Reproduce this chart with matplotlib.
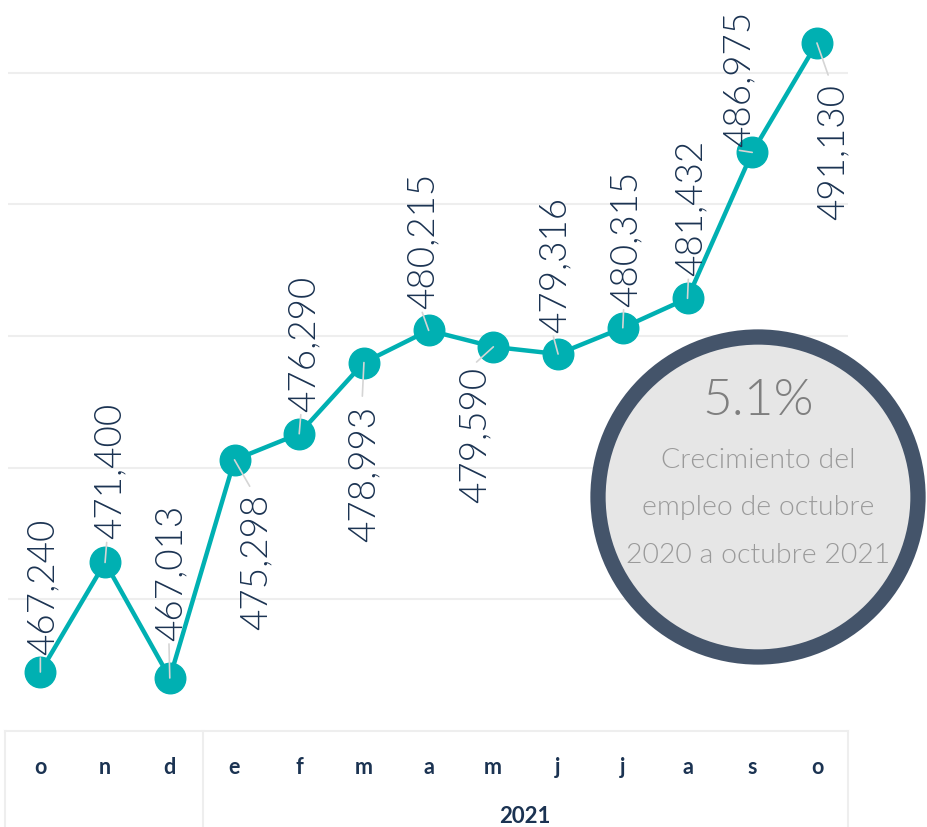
import numpy as np
import matplotlib.pyplot as plt
from matplotlib.patches import Circle

plt.rcParams['font.family'] = ['Lato', 'DejaVu Sans']

months = ['o', 'n', 'd', 'e', 'f', 'm', 'a', 'm', 'j', 'j', 'a', 's', 'o']
empleo = [467240, 471400, 467013, 475298, 476290, 478993, 480215,
          479590, 479316, 480315, 481432, 486975, 491130]
year_label = '2021'
growth = '5.1%'
growth_text = 'Crecimiento del\nempleo de octubre\n2020 a octubre 2021'

# label placement in pixels from the marker centre (dy > 0: label above)
label_dx = [0, 2, -1, 19, 2, -2, -8, -21, -6, 1, 1, -16, 14]
label_dy = [18, 24, 38, -33, 23, -42, 22, -19, 22, 22, 23, 6, -40]

teal = '#00b0b2'
navy = '#1b3352'

W, H = 928, 828
fig = plt.figure(figsize=(W / 100, H / 100), dpi=100)

# main axes: pixels x 8..848, y 0..730 (from top)
ax = fig.add_axes([8 / W, (H - 730) / H, 840 / W, 730 / H])
x = np.arange(len(empleo))
ax.plot(x, empleo, color=teal, lw=3.2, marker='o', ms=22, zorder=3,
        solid_capstyle='round')

px = 0.02633  # pixels per unit
ytop = 491130 + 44 / px
ybot = 467240 - (730 - 673) / px
ax.set_ylim(ybot, ytop)
ax.set_xlim(-0.5, 12.48)
ax.set_yticks([470000, 475000, 480000, 485000, 490000])
ax.grid(axis='y', color='#eeeeee', lw=1.5)
ax.set_axisbelow(True)
ax.tick_params(left=False, bottom=False, labelleft=False, labelbottom=False)
for s in ax.spines.values():
    s.set_visible(False)

for xi, v, dx, dy in zip(x, empleo, label_dx, label_dy):
    # short leader line from the marker toward its label
    ax.annotate('', (xi, v), xytext=(dx * 0.8, dy * 0.8 if dy < 0 else dy - 4),
                textcoords='offset pixels',
                arrowprops=dict(arrowstyle='-', color='#d5d5d5', lw=1.2,
                                shrinkA=0, shrinkB=0), zorder=4)
    ax.annotate(f'{v:,}', (xi, v), xytext=(dx + 3, dy), textcoords='offset pixels',
                rotation=90, ha='center', va='bottom' if dy > 0 else 'top',
                fontsize=26.5, color=navy, fontweight=300, zorder=5)

# bottom category table
tab = fig.add_axes([0, 0, 1, (H - 730) / H])
tab.set_xlim(0, W)
tab.set_ylim(H, 730)
tab.axis('off')
tab.plot([5, 848], [732, 732], color='#eeeeee', lw=1.5)
for xv in [5, 203, 848]:
    tab.plot([xv, xv], [732, H], color='#eeeeee', lw=1.5)
for i, m in enumerate(months):
    tab.text(40 + i * 64.75, 768, m, ha='center', va='center',
             fontsize=15.5, fontweight='bold', color=navy)
tab.text(525, 817, year_label, ha='center', va='center', fontsize=16,
         fontweight='bold', color=navy)

# growth circle
cax = fig.add_axes([0, 0, 1, 1], facecolor='none')
cax.set_xlim(0, W)
cax.set_ylim(H, 0)
cax.set_aspect('equal')
cax.axis('off')
cax.add_patch(Circle((758, 498), 160, facecolor='#e6e6e6',
                     edgecolor='#44546a', lw=11))
cax.text(758, 401, growth, ha='center', va='center', fontsize=37,
         color='#7f7f7f', fontweight=300)
cax.text(758, 508, growth_text, ha='center', va='center', fontsize=20.5,
         color='#9a9a9a', fontweight=300, linespacing=2.12)

fig.savefig('out.png', dpi=100)
